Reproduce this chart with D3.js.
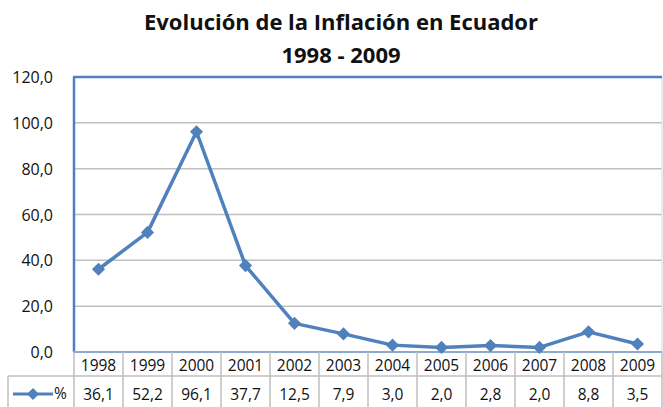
<!DOCTYPE html>
<html>
<head>
<meta charset="utf-8">
<script src="https://cdn.jsdelivr.net/npm/d3@7"></script>
<style>
  body { margin: 0; background: #fff; }
  text { font-family: 'Open Sans', Lato, sans-serif; fill: #111; }
</style>
</head>
<body>
<script>
// data
var years = ['1998', '1999', '2000', '2001', '2002', '2003', '2004', '2005', '2006', '2007', '2008', '2009']
var inflation = [36.1, 52.2, 96.1, 37.7, 12.5, 7.9, 3.0, 2.0, 2.8, 2.0, 8.8, 3.5]
var yTicks = [0, 20, 40, 60, 80, 100, 120]
var seriesName = '%'

var w = 663
var h = 407
var plotLeft = 74
var plotRight = 662
var plotTop = 77
var plotBottom = 352
var blue = '#4f81bd'
var grid = '#bfbfbf'

var fmt = function (v) { return v.toFixed(1).replace('.', ',') }

var svg = d3.select('body').append('svg')
  .attr('width', w)
  .attr('height', h)

var xScale = d3.scaleBand().domain(years).range([plotLeft, plotRight])
var yScale = d3.scaleLinear().domain([0, 120]).range([plotBottom, plotTop])
var cx = function (y) { return xScale(y) + xScale.bandwidth() / 2 }

// title
svg.append('text')
  .attr('x', 341).attr('y', 30)
  .attr('text-anchor', 'middle')
  .attr('font-size', '22px').attr('font-weight', 'bold')
  .text('Evolución de la Inflación en Ecuador')
svg.append('text')
  .attr('x', 341).attr('y', 63)
  .attr('text-anchor', 'middle')
  .attr('font-size', '22px').attr('font-weight', 'bold')
  .text('1998 - 2009')

// gridlines
svg.selectAll('line.grid')
  .data(yTicks.filter(function (d) { return d > 0 && d < 120 }))
  .enter().append('line')
  .attr('class', 'grid')
  .attr('x1', plotLeft).attr('x2', plotRight)
  .attr('y1', function (d) { return yScale(d) })
  .attr('y2', function (d) { return yScale(d) })
  .attr('stroke', grid).attr('stroke-width', 1.5)

// plot border
svg.append('line').attr('x1', plotRight).attr('x2', plotRight).attr('y1', plotTop).attr('y2', plotBottom)
  .attr('stroke', '#dce6f2').attr('stroke-width', 1.5)
svg.append('line').attr('x1', plotLeft - 1).attr('x2', plotRight).attr('y1', plotTop).attr('y2', plotTop)
  .attr('stroke', blue).attr('stroke-width', 2.5)
svg.append('line').attr('x1', plotLeft).attr('x2', plotLeft).attr('y1', plotTop).attr('y2', plotBottom)
  .attr('stroke', blue).attr('stroke-width', 2.5)
svg.append('line').attr('x1', plotLeft - 1).attr('x2', plotRight).attr('y1', plotBottom).attr('y2', plotBottom)
  .attr('stroke', '#8ea9cf').attr('stroke-width', 2)

// y axis labels
svg.selectAll('text.ytick')
  .data(yTicks)
  .enter().append('text')
  .attr('class', 'ytick')
  .attr('x', 53)
  .attr('y', function (d) { return yScale(d) + 6 })
  .attr('text-anchor', 'end')
  .attr('font-size', '16px')
  .text(fmt)

// data table
var rowMid = 376
var tableBottom = 407
svg.selectAll('line.col')
  .data(years.concat(['end']))
  .enter().append('line')
  .attr('class', 'col')
  .attr('x1', function (d) { return d === 'end' ? plotRight : xScale(d) })
  .attr('x2', function (d) { return d === 'end' ? plotRight : xScale(d) })
  .attr('y1', plotBottom).attr('y2', tableBottom)
  .attr('stroke', grid).attr('stroke-width', 1.5)
svg.append('line').attr('x1', 8).attr('x2', plotRight).attr('y1', rowMid).attr('y2', rowMid)
  .attr('stroke', grid).attr('stroke-width', 1.5)
svg.append('line').attr('x1', 8).attr('x2', 8).attr('y1', rowMid).attr('y2', tableBottom)
  .attr('stroke', grid).attr('stroke-width', 1.5)

svg.selectAll('text.year')
  .data(years)
  .enter().append('text')
  .attr('class', 'year')
  .attr('x', cx)
  .attr('y', 371)
  .attr('text-anchor', 'middle')
  .attr('font-size', '15.5px')
  .text(function (d) { return d })

svg.selectAll('text.val')
  .data(inflation)
  .enter().append('text')
  .attr('class', 'val')
  .attr('x', function (d, i) { return cx(years[i]) })
  .attr('y', 400)
  .attr('text-anchor', 'middle')
  .attr('font-size', '15.5px')
  .text(fmt)

// legend key
svg.append('line').attr('x1', 13).attr('x2', 53).attr('y1', 394).attr('y2', 394)
  .attr('stroke', blue).attr('stroke-width', 3)
svg.append('path')
  .attr('d', d3.symbol().type(d3.symbolDiamond2).size(90))
  .attr('transform', 'translate(33,394)')
  .attr('fill', blue)
svg.append('text').attr('x', 54).attr('y', 399).attr('font-size', '15.5px').text(seriesName)

// line + markers
var pts = inflation.map(function (v, i) { return { year: years[i], v: v } })
var line = d3.line()
  .x(function (d) { return cx(d.year) })
  .y(function (d) { return yScale(d.v) })

svg.append('path')
  .datum(pts)
  .attr('d', line)
  .attr('fill', 'none')
  .attr('stroke', blue)
  .attr('stroke-width', 3.5)
  .attr('stroke-linejoin', 'round')

svg.selectAll('path.marker')
  .data(pts)
  .enter().append('path')
  .attr('class', 'marker')
  .attr('d', d3.symbol().type(d3.symbolDiamond2).size(110))
  .attr('transform', function (d) {
    return 'translate(' + cx(d.year) + ',' + yScale(d.v) + ')'
  })
  .attr('fill', blue)
</script>
</body>
</html>
